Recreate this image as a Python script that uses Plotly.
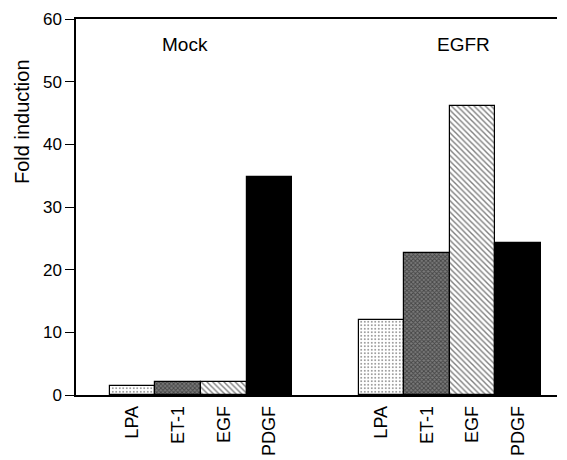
import plotly.graph_objects as go

categories = ["LPA", "ET-1", "EGF", "PDGF"]
groups = ["Mock", "EGFR"]
mock_values = [1.4, 2.1, 2.1, 34.8]
egfr_values = [12.0, 22.6, 46.1, 24.2]
y_ticks = [0, 10, 20, 30, 40, 50, 60]

# x positions (bar-width units)
mock_x = [0, 1, 2, 3]
egfr_x = [5.46, 6.46, 7.46, 8.46]

patterns = [
    dict(shape=".", fgcolor="black", bgcolor="white", size=3.5, solidity=0.2),
    dict(shape="x", fgcolor="#111111", bgcolor="#7a7a7a", size=3, solidity=0.5),
    dict(shape="\\", fgcolor="black", bgcolor="white", size=4, solidity=0.35),
    dict(shape="", fgcolor="black", bgcolor="black"),
]
colors = ["white", "#7a7a7a", "white", "black"]

fig = go.Figure()
for i, cat in enumerate(categories):
    fig.add_trace(go.Bar(
        x=[mock_x[i], egfr_x[i]],
        y=[mock_values[i], egfr_values[i]],
        width=1.0,
        marker=dict(color=colors[i], pattern=patterns[i],
                    line=dict(color="black", width=1.2)),
        name=cat, showlegend=False,
    ))

font_family = "Liberation Sans, Arial, sans-serif"

# page body has an 8px offset; plot area target 76..557 x, 19..395 y
L, T, R, B = 68, 11, 567 - 549, 460 - 387
fig.update_layout(
    width=567, height=460,
    margin=dict(l=L, r=R, t=T, b=B),
    plot_bgcolor="white", paper_bgcolor="white",
    font=dict(family=font_family, size=18, color="black"),
    bargap=0,
)
fig.update_xaxes(
    range=[-1.24, 9.31],
    tickmode="array",
    tickvals=mock_x + egfr_x,
    ticktext=categories + categories,
    tickangle=-90,
    ticks="",
    ticklabelstandoff=2,
    automargin=False,
    showline=True, linecolor="black", linewidth=1.5, mirror=True,
    showgrid=False, zeroline=False,
    tickfont=dict(size=18),
)
fig.update_yaxes(
    range=[0, 60],
    tickmode="array", tickvals=y_ticks,
    ticks="outside", ticklen=9, tickcolor="black", tickwidth=1.2,
    automargin=False,
    showline=True, linecolor="black", linewidth=1.5,
    showgrid=False, zeroline=False,
    tickfont=dict(size=17),
)

fig.add_annotation(x=1.15, y=56, text=groups[0], showarrow=False,
                   xref="x", yref="y", font=dict(size=19))
fig.add_annotation(x=7.25, y=56, text=groups[1], showarrow=False,
                   xref="x", yref="y", font=dict(size=19))
pw, ph = 567 - L - R, 460 - T - B
fig.add_annotation(xref="paper", yref="paper", text="Fold induction",
                   x=(14 - L) / pw, y=1 - (114 - T) / ph,
                   xanchor="center", yanchor="middle",
                   showarrow=False, textangle=-90, font=dict(size=20))

fig.write_html("out.html")
